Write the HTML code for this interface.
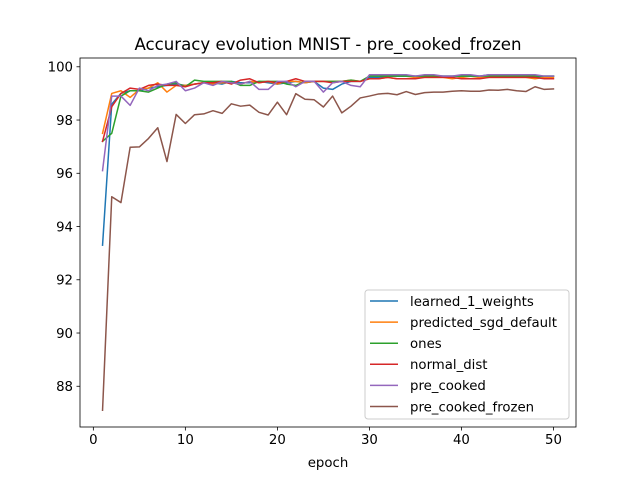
<!DOCTYPE html>
<html><head><meta charset="utf-8"><style>
body{margin:0;background:#fff}
svg text{font-family:"DejaVu Sans","Liberation Sans",sans-serif;fill:#000}
</style></head><body>
<svg id="c" width="640" height="480" xmlns="http://www.w3.org/2000/svg"></svg>
<script>
const epochs=[];for(let i=1;i<=50;i++)epochs.push(i);
const learned1=[93.3,98.6,99.0,99.1,99.1,99.2,99.25,99.3,99.35,99.3,99.35,99.4,99.4,99.35,99.45,99.4,99.4,99.45,99.4,99.35,99.4,99.45,99.4,99.45,99.2,99.15,99.35,99.45,99.45,99.6,99.6,99.65,99.65,99.65,99.65,99.65,99.65,99.65,99.65,99.65,99.65,99.65,99.7,99.65,99.65,99.65,99.65,99.6,99.65,99.65];
const predictedSgd=[97.5,99.0,99.1,98.85,99.15,99.2,99.4,99.05,99.3,99.3,99.35,99.4,99.35,99.4,99.4,99.35,99.45,99.4,99.45,99.35,99.45,99.45,99.4,99.45,99.45,99.45,99.45,99.5,99.45,99.55,99.55,99.6,99.55,99.55,99.6,99.6,99.6,99.6,99.55,99.6,99.55,99.6,99.6,99.6,99.6,99.6,99.6,99.55,99.6,99.6];
const ones=[97.2,97.5,98.9,99.1,99.1,99.05,99.2,99.35,99.4,99.25,99.5,99.45,99.45,99.45,99.45,99.3,99.3,99.45,99.45,99.45,99.35,99.3,99.45,99.45,99.45,99.45,99.45,99.5,99.45,99.65,99.65,99.65,99.65,99.65,99.65,99.65,99.65,99.65,99.65,99.65,99.65,99.65,99.65,99.65,99.65,99.65,99.65,99.65,99.65,99.65];
const normalDist=[97.2,98.5,99.0,99.2,99.15,99.3,99.35,99.3,99.3,99.25,99.35,99.4,99.4,99.45,99.35,99.5,99.55,99.4,99.45,99.4,99.45,99.55,99.45,99.45,99.45,99.4,99.45,99.45,99.45,99.55,99.55,99.6,99.55,99.55,99.55,99.6,99.6,99.6,99.6,99.55,99.55,99.55,99.6,99.6,99.6,99.6,99.6,99.6,99.55,99.55];
const preCooked=[96.1,98.9,98.9,98.55,99.2,99.1,99.3,99.35,99.45,99.1,99.2,99.4,99.3,99.45,99.4,99.35,99.45,99.15,99.15,99.45,99.45,99.25,99.45,99.45,99.05,99.4,99.45,99.3,99.25,99.7,99.7,99.7,99.7,99.7,99.65,99.7,99.7,99.65,99.65,99.7,99.7,99.65,99.7,99.7,99.7,99.7,99.7,99.7,99.65,99.65];
const preCookedFrozen=[87.1,95.12,94.9,96.98,96.99,97.31,97.71,96.44,98.21,97.87,98.2,98.23,98.35,98.25,98.61,98.52,98.56,98.29,98.19,98.67,98.2,98.99,98.78,98.76,98.49,98.9,98.27,98.52,98.83,98.9,98.98,99.0,98.95,99.07,98.96,99.03,99.05,99.05,99.08,99.1,99.08,99.08,99.13,99.12,99.15,99.1,99.07,99.25,99.15,99.17];
const seriesNames=["learned_1_weights","predicted_sgd_default","ones","normal_dist","pre_cooked","pre_cooked_frozen"];
const seriesColors=["#1f77b4","#ff7f0e","#2ca02c","#d62728","#9467bd","#8c564b"];
const xTicks=[0,10,20,30,40,50];
const yTicks=[88,90,92,94,96,98,100];

const svg=document.getElementById('c');const NS="http://www.w3.org/2000/svg";
const L=80,R=576,T=58,B=427;
const xmin=-1.45,xmax=52.45,ymin=86.47,ymax=100.33;
const sx=v=>L+(v-xmin)/(xmax-xmin)*(R-L);
const sy=v=>B-(v-ymin)/(ymax-ymin)*(B-T);
function mk(tag,attrs,parent){const e=document.createElementNS(NS,tag);for(const k in attrs)e.setAttribute(k,attrs[k]);(parent||svg).appendChild(e);return e;}
let t=mk('text',{x:(L+R)/2,y:50,'text-anchor':'middle','font-size':16.6});t.textContent="Accuracy evolution MNIST - pre_cooked_frozen";


const data=[learned1,predictedSgd,ones,normalDist,preCooked,preCookedFrozen];
data.forEach((d,i)=>{const p=mk('polyline',{points:d.map((v,j)=>sx(epochs[j])+','+sy(v)).join(' '),fill:'none',stroke:seriesColors[i],'stroke-width':1.5,'stroke-linejoin':'round','stroke-linecap':'square'});

});
let fr=mk('rect',{x:L,y:T,width:R-L,height:B-T,fill:'none',stroke:'#000','stroke-width':0.8});


xTicks.forEach(v=>{mk('line',{x1:sx(v),x2:sx(v),y1:B,y2:B+3.5,stroke:'#000','stroke-width':0.8});const e=mk('text',{x:sx(v),y:B+17,'text-anchor':'middle','font-size':13.3});e.textContent=v;

});
yTicks.forEach(v=>{mk('line',{x1:L-3.5,x2:L,y1:sy(v),y2:sy(v),stroke:'#000','stroke-width':0.8});const e=mk('text',{x:L-7,y:sy(v)+4.8,'text-anchor':'end','font-size':13.3});e.textContent=v;

});
t=mk('text',{x:(L+R)/2,y:467,'text-anchor':'middle','font-size':13.3});t.textContent="epoch";


const lg=mk('g',{});


mk('rect',{x:365,y:290,width:204,height:129,rx:3,fill:'#fff','fill-opacity':0.8,stroke:'#ccc','stroke-width':1},lg);
seriesNames.forEach((n,i)=>{const y=301+i*21.1;const g=mk('g',{},lg);


mk('line',{x1:370,x2:398,y1:y,y2:y,stroke:seriesColors[i],'stroke-width':1.5},g);const e=mk('text',{x:410,y:y+4.8,'font-size':13.3},g);e.textContent=n;});
</script>
</body></html>
